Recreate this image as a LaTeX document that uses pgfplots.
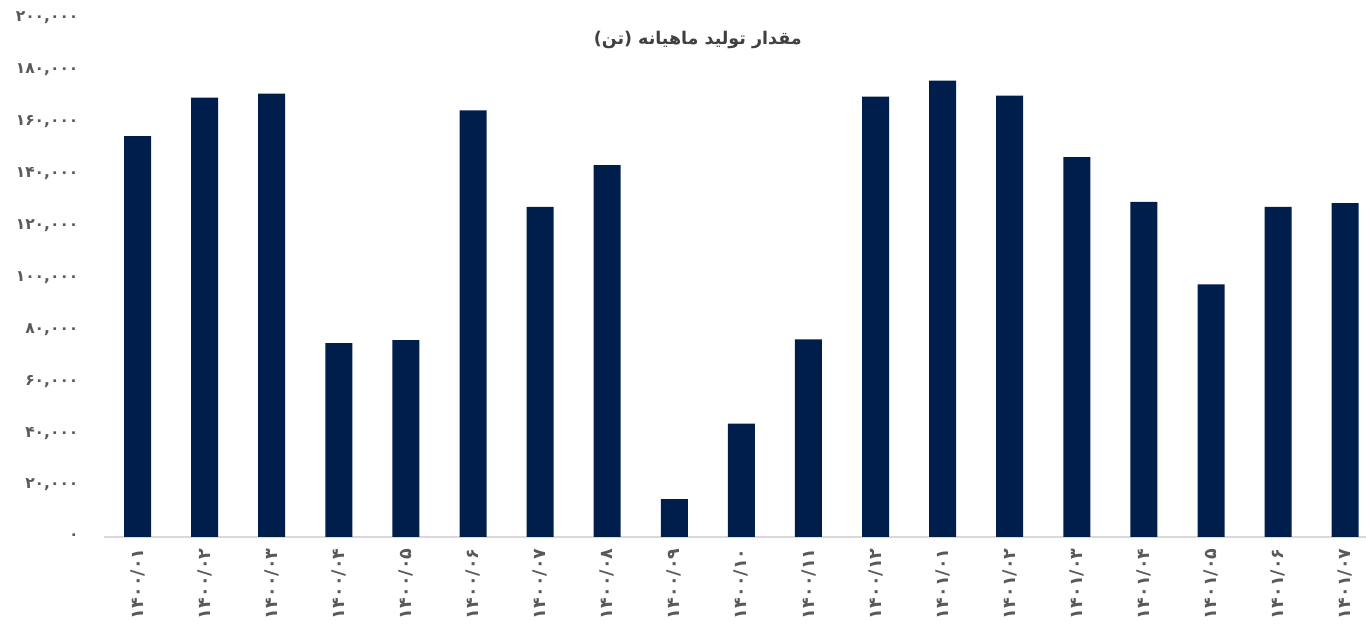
\documentclass[border=0pt]{standalone}
\usepackage{fontspec}
\usepackage{pgfplots}
\pgfplotsset{compat=1.18}
\TeXXeTstate=1
\newfontfamily\fa[Script=Arabic]{DejaVu Sans}
\definecolor{barblue}{HTML}{001E4B}
\definecolor{labgray}{HTML}{595959}
\definecolor{axgray}{HTML}{D9D9D9}

\begin{document}
\begin{tikzpicture}
\begin{axis}[
    scale only axis,
    width=1262pt, height=519pt,
    xmin=-0.5, xmax=18.31,
    ymin=0, ymax=200000,
    scaled y ticks=false,
    ybar, bar width=27pt,
    axis x line*=bottom, axis y line*=left,
    x axis line style={axgray, line width=1.5pt},
    y axis line style={draw=none},
    major tick length=0pt,
    xtick={0,...,18},
    xticklabels={۱۴۰۰/۰۱,۱۴۰۰/۰۲,۱۴۰۰/۰۳,۱۴۰۰/۰۴,۱۴۰۰/۰۵,۱۴۰۰/۰۶,۱۴۰۰/۰۷,۱۴۰۰/۰۸,۱۴۰۰/۰۹,۱۴۰۰/۱۰,۱۴۰۰/۱۱,۱۴۰۰/۱۲,۱۴۰۱/۰۱,۱۴۰۱/۰۲,۱۴۰۱/۰۳,۱۴۰۱/۰۴,۱۴۰۱/۰۵,۱۴۰۱/۰۶,۱۴۰۱/۰۷},
    ytick={0,20000,...,200000},
    yticklabels={۰,{۲۰,۰۰۰},{۴۰,۰۰۰},{۶۰,۰۰۰},{۸۰,۰۰۰},{۱۰۰,۰۰۰},{۱۲۰,۰۰۰},{۱۴۰,۰۰۰},{۱۶۰,۰۰۰},{۱۸۰,۰۰۰},{۲۰۰,۰۰۰}},
    xticklabel style={yshift=-8pt, rotate=90, anchor=east,
        font=\fa\bfseries\fontsize{17.5}{20}\selectfont, text=labgray},
    yticklabel style={anchor=east, xshift=-22pt,
        font=\fa\bfseries\fontsize{15.5}{18}\selectfont, text=labgray},
    clip=false,
]
\addplot[fill=barblue, draw=none] coordinates {
    (0,154500) (1,169300) (2,170900) (3,74700) (4,75900) (5,164400)
    (6,127200) (7,143300) (8,14600) (9,43700) (10,76200) (11,169700)
    (12,175900) (13,170100) (14,146400) (15,129100) (16,97300)
    (17,127200) (18,128700)
};
\coordinate (bl) at (rel axis cs:0,0);
\coordinate (tr) at (rel axis cs:1,1);
\node[font=\fa\bfseries\fontsize{17.5}{20}\selectfont, text=black!75]
    at (axis description cs:0.4705,0.9576) {\beginR مقدار تولید ماهیانه (تن)\endR};
\end{axis}
\pgfresetboundingbox
\path ([xshift=-104pt,yshift=-90pt]bl) rectangle ([yshift=18pt]tr);
\end{tikzpicture}
\end{document}
